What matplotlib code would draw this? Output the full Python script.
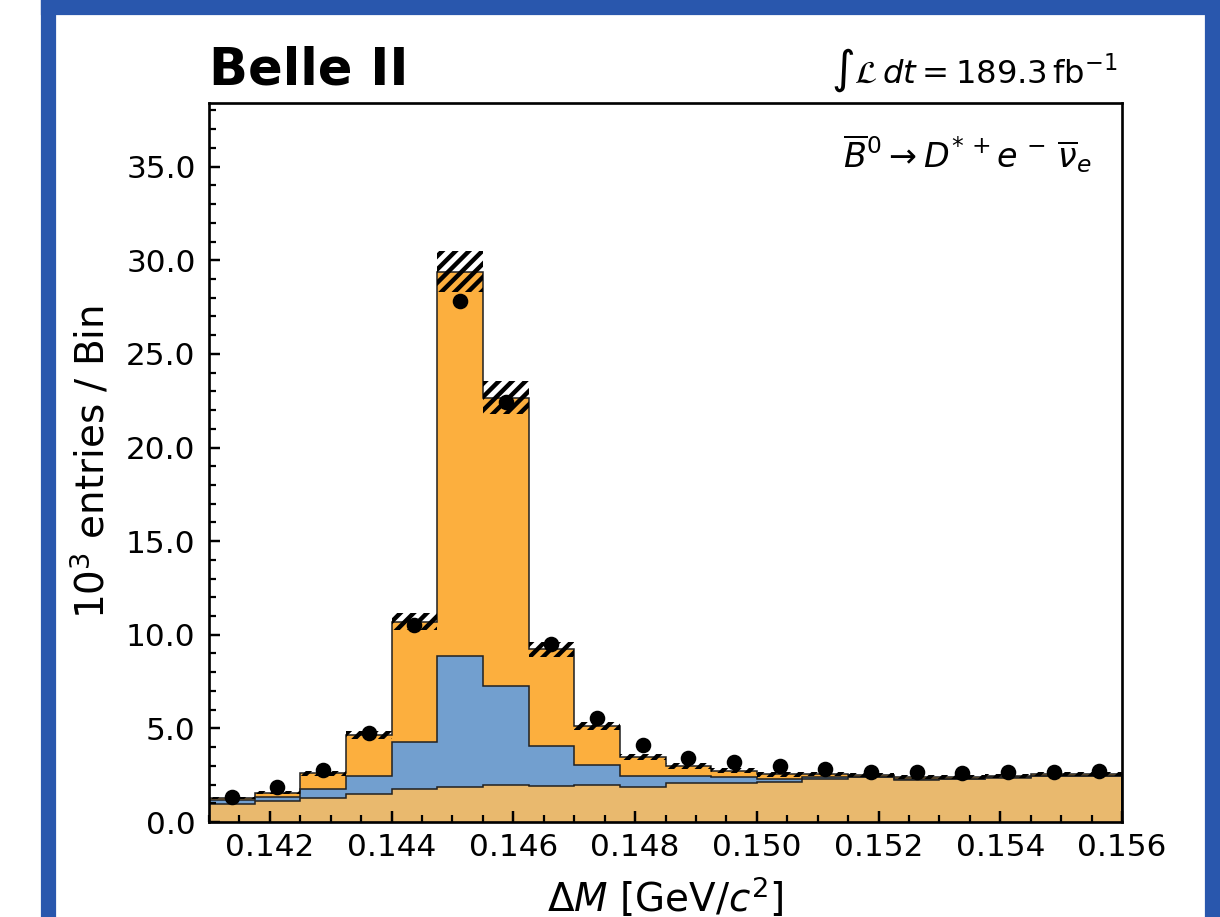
import numpy as np
import matplotlib
matplotlib.use("Agg")
import matplotlib.pyplot as plt
from matplotlib.patches import Rectangle
from matplotlib.ticker import MultipleLocator, FormatStrFormatter

# Delta M binning, GeV/c^2
edges = np.linspace(0.141, 0.156, 21)

# stacked MC, cumulative tops (10^3 entries / bin)
bkg_top = [0.96, 1.14, 1.27, 1.48, 1.75, 1.89, 1.96, 1.94, 1.96, 1.85,
           2.07, 2.10, 2.15, 2.28, 2.39, 2.24, 2.30, 2.37, 2.47, 2.46]
blue_top = [1.18, 1.35, 1.75, 2.47, 4.29, 8.87, 7.26, 4.06, 3.04, 2.46,
            2.46, 2.39, 2.28, 2.42, 2.42, 2.28, 2.32, 2.38, 2.48, 2.47]
total = [1.27, 1.57, 2.60, 4.65, 10.70, 29.40, 22.67, 9.22, 5.15, 3.49,
         2.99, 2.74, 2.55, 2.56, 2.51, 2.39, 2.39, 2.46, 2.56, 2.56]
mc_err = [0.06, 0.08, 0.12, 0.20, 0.46, 1.10, 0.90, 0.42, 0.21, 0.16,
          0.15, 0.13, 0.12, 0.11, 0.10, 0.10, 0.10, 0.10, 0.10, 0.10]
data = [1.35, 1.89, 2.78, 4.77, 10.52, 27.83, 22.45, 9.49, 5.57, 4.11,
        3.40, 3.22, 3.01, 2.83, 2.69, 2.69, 2.60, 2.69, 2.69, 2.74]

bkg_top = np.array(bkg_top)
blue_top = np.array(blue_top)
total = np.array(total)
mc_err = np.array(mc_err)
data = np.array(data)
centers = 0.5 * (edges[1:] + edges[:-1])
width = edges[1] - edges[0]

plt.rcParams['hatch.linewidth'] = 2.0

fig = plt.figure(figsize=(1220 / 160, 917 / 160), dpi=160)
ax = fig.add_axes([209 / 1220, 1 - 822 / 917, (1122 - 209) / 1220, (822 - 103) / 917])

# blue frame around the figure
frame_c = '#2957ad'
for x0, y0, w, h in [(42, 0, 13, 917), (42, 0, 1178, 14), (1206, 0, 14, 917)]:
    fig.patches.append(Rectangle((x0 / 1220, 1 - (y0 + h) / 917), w / 1220, h / 917,
                                 transform=fig.transFigure, color=frame_c, zorder=0))

ax.stairs(bkg_top, edges, baseline=0, fill=True, color='#e9b96e')
ax.stairs(blue_top, edges, baseline=bkg_top, fill=True, color='#729fcf')
ax.stairs(total, edges, baseline=blue_top, fill=True, color='#fcaf3e')
for top in (bkg_top, blue_top, total):
    ax.stairs(top, edges, color='#222222', lw=0.7)

ax.bar(edges[:-1], 2 * mc_err, width=width, bottom=total - mc_err, align='edge',
       color='none', edgecolor='black', hatch='////', linewidth=0)

ax.errorbar(centers, data, yerr=np.sqrt(data * 1000) / 1000, fmt='o', color='black',
            markersize=6, elinewidth=1, capsize=0)

ax.set_xlim(0.141, 0.156)
ax.set_ylim(0, 38.4)
ax.xaxis.set_major_locator(MultipleLocator(0.002))
ax.xaxis.set_minor_locator(MultipleLocator(0.0005))
ax.yaxis.set_major_locator(MultipleLocator(5))
ax.yaxis.set_minor_locator(MultipleLocator(1))
ax.xaxis.set_major_formatter(FormatStrFormatter('%.3f'))
ax.yaxis.set_major_formatter(FormatStrFormatter('%.1f'))
ax.tick_params(which='both', direction='in', top=False, right=False, labelsize=14)
ax.tick_params(which='major', length=5, width=1.1)
ax.tick_params(which='minor', length=3, width=1.0)
ax.tick_params(axis='y', pad=6)
ax.tick_params(axis='x', pad=5)
for s in ax.spines.values():
    s.set_linewidth(1.2)

ax.set_xlabel(r'$\Delta M$ [GeV/$c^2$]', fontsize=17.5, labelpad=6)
ax.set_ylabel(r'$10^3$ entries / Bin', fontsize=17.5, labelpad=6)

ax.text(0.0, 1.026, 'Belle II', transform=ax.transAxes, fontsize=23,
        fontweight='bold', ha='left', va='baseline')
ax.text(0.9956, 1.028, r'$\int\mathcal{L}\,dt = 189.3\,\mathrm{fb}^{-1}$',
        transform=ax.transAxes, fontsize=14.5, ha='right', va='baseline')
ax.text(0.967, 0.911, r'$\overline{B}^0 \rightarrow D^{*\,+}e^{\,-}\,\overline{\nu}_e$',
        transform=ax.transAxes, fontsize=15, ha='right', va='baseline')

fig.savefig('out.png', dpi=160)
